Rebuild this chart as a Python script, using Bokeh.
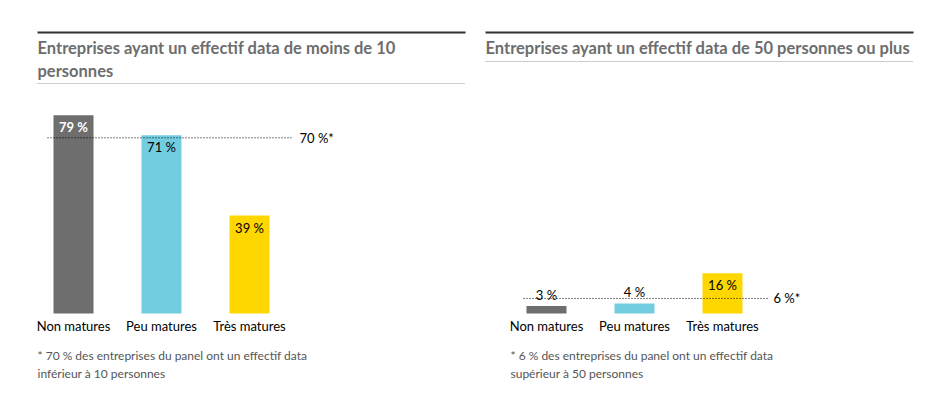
from bokeh.plotting import figure
from bokeh.layouts import row
from bokeh.models import Range1d, ColumnDataSource
from bokeh.core.properties import value
from bokeh.embed import file_html
from bokeh.resources import INLINE

# ---------------- data ----------------
categories = ["Non matures", "Peu matures", "Très matures"]
small_values = [79, 71, 39]          # effectif data < 10 personnes
large_values = [3, 4, 16]            # effectif data >= 50 personnes
small_ref = 70
large_ref = 6
small_title = ["Entreprises ayant un effectif data de moins de 10", "personnes"]
large_title = ["Entreprises ayant un effectif data de 50 personnes ou plus"]
small_note = ["* 70 % des entreprises du panel ont un effectif data",
              "inférieur à 10 personnes"]
large_note = ["* 6 % des entreprises du panel ont un effectif data",
              "supérieur à 50 personnes"]

# ---------------- styles ----------------
bar_colors = ["#6e6e6e", "#72cde0", "#ffd700"]
FONT = "Lato"
TITLE_COLOR = "#6d6d6d"
NOTE_COLOR = "#555555"
PX_PER_CAT = 88.0
PX_PER_PCT = 2.51
BASE_PAGE_Y = 313
FIG_TOP = 0
FIG_H = 400


def make_panel(page_left, width, first_center, values, ref, title_lines,
               title_x, rule_end, underline_y, note_lines, note_x,
               ref_x0, ref_x1, ref_label_x):
    def dx(px):
        return (px - first_center) / PX_PER_CAT

    def dy(py):
        return (BASE_PAGE_Y - py) / PX_PER_PCT

    p = figure(width=width, height=FIG_H, output_backend="svg",
               toolbar_location=None,
               x_range=Range1d(dx(page_left), dx(page_left + width)),
               y_range=Range1d(dy(FIG_TOP + FIG_H), dy(FIG_TOP)),
               x_axis_location=None, y_axis_location=None,
               min_border=0, outline_line_color=None)
    p.xgrid.visible = False
    p.ygrid.visible = False

    idx = list(range(len(categories)))
    src = ColumnDataSource(dict(x=idx, top=values, color=bar_colors,
                                cat=categories))
    p.vbar(x="x", top="top", bottom=0, width=40 / PX_PER_CAT,
           fill_color="color", line_color=None, source=src)

    # value labels
    inside = [v >= 10 for v in values]
    white = dict(x=[], y=[], t=[])
    black_in = dict(x=[], y=[], t=[])
    black_out = dict(x=[], y=[], t=[])
    for i, v in enumerate(values):
        t = f"{v} %"
        if inside[i] and i == 0:
            d = white
        elif inside[i]:
            d = black_in
        else:
            d = black_out
        d["x"].append(i); d["y"].append(v); d["t"].append(t)
    p.text(x=white["x"], y=white["y"], text=white["t"], y_offset=12,
           text_align="center", text_baseline="middle",
           text_font=value(FONT), text_font_size="13px",
           text_font_style="bold", text_color="white")
    p.text(x=black_in["x"], y=black_in["y"], text=black_in["t"], y_offset=12,
           text_align="center", text_baseline="middle",
           text_font=value(FONT), text_font_size="13px", text_color="black")
    p.text(x=black_out["x"], y=black_out["y"], text=black_out["t"],
           y_offset=-11, text_align="center", text_baseline="middle",
           text_font=value(FONT), text_font_size="13px", text_color="black")

    # category labels
    p.text(x="x", y=0, text="cat", source=src, y_offset=12,
           text_align="center", text_baseline="middle",
           text_font=value(FONT), text_font_size="13px", text_color="black")

    # reference line
    p.segment(x0=[dx(ref_x0)], y0=[ref], x1=[dx(ref_x1)], y1=[ref],
              line_color="black", line_width=1, line_dash="1 2")
    p.text(x=[dx(ref_label_x)], y=[ref], text=[f"{ref} %*"],
           text_align="left", text_baseline="middle",
           text_font=value(FONT), text_font_size="13px", text_color="black")

    # header rules and title
    p.segment(x0=[dx(title_x)], y0=[dy(32)], x1=[dx(rule_end)], y1=[dy(32)],
              line_color="#333333", line_width=2)
    p.segment(x0=[dx(title_x)], y0=[dy(underline_y)], x1=[dx(rule_end)],
              y1=[dy(underline_y)], line_color="#9a9a9a", line_width=1,
              line_dash="1 1")
    ty = [47, 70][:len(title_lines)]
    p.text(x=[dx(title_x)] * len(title_lines), y=[dy(v) for v in ty],
           text=title_lines, text_align="left", text_baseline="middle",
           text_font=value(FONT), text_font_size="16.5px",
           text_font_style="bold", text_color=TITLE_COLOR)

    # footnote
    ny = [355, 373]
    p.text(x=[dx(note_x)] * len(note_lines), y=[dy(v) for v in ny],
           text=note_lines, text_align="left", text_baseline="middle",
           text_font=value(FONT), text_font_size="12px", text_color=NOTE_COLOR)
    return p


p1 = make_panel(0, 470, 73, small_values, small_ref, small_title,
                37, 465, 83, small_note, 37, 47, 292, 299)
p2 = make_panel(470, 450, 546, large_values, large_ref, large_title,
                485, 913, 61, large_note, 510, 523, 768, 773)

layout = row(p1, p2)
open("out.html", "w").write(file_html(layout, INLINE))
